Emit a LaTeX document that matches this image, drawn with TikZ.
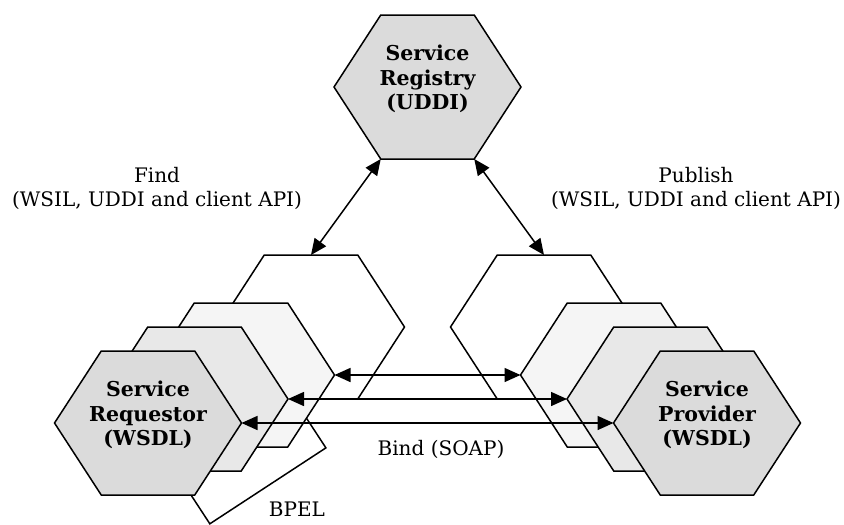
\documentclass[tikz,border=0pt]{standalone}
\usepackage{fontspec}
\setmainfont{DejaVu Serif}
\usetikzlibrary{positioning}
\usetikzlibrary{calc}
\usetikzlibrary{arrows.meta}

\definecolor{hexdark}{gray}{0.86}
\definecolor{hexmid}{gray}{0.91}
\definecolor{hexlight}{gray}{0.96}

\begin{document}
\begin{tikzpicture}[
x=1pt, y=-1pt,
line width=1.5pt,
hx/.style={minimum width=190pt, minimum height=147pt, inner sep=0pt, outer sep=-1.5pt,
  path picture={\filldraw[fill=#1, line width=1.5pt]
    ([xshift=-93.5pt]path picture bounding box.center) -- ++(46.75pt,72pt) -- ++(93.5pt,0pt)
    -- ++(46.75pt,-72pt) -- ++(-46.75pt,-72pt) -- ++(-93.5pt,0pt) -- cycle;}},
link/.style={draw, {Triangle[length=16pt,width=14pt]}-{Triangle[length=16pt,width=14pt]}}
]
\tikzstyle{tx} = [align=center, font=\bfseries\fontsize{20.5}{24.5}\selectfont]
\tikzstyle{lb} = [align=center, font=\fontsize{20}{24}\selectfont]

\useasboundingbox (0,0) rectangle (844,525);

% BPEL box sits behind the requestor stack
\node[draw, rotate=33.2, minimum width=138.7, minimum height=100, inner sep=0pt] (bpelbox) at (240.5,444) {};

% requestor stack, back to front
\node[hx=white] (rq1) at (311,327) {};
\node[hx=hexlight] (rq2) at (241,375) {};
\node[hx=hexmid] (rq3) at (194.5,399) {};
\node[hx=hexdark] (rq4) at (148,423) {};

% provider stack, back to front
\node[hx=white] (pv1) at (544,327) {};
\node[hx=hexlight] (pv2) at (614,375) {};
\node[hx=hexmid] (pv3) at (660.5,399) {};
\node[hx=hexdark] (pv4) at (707,423) {};

\node[hx=hexdark] (reg) at (427.5,87) {};

\draw[link] ($(reg.south west)!.25!(reg.south east)$) -- (rq1.north);
\draw[link] ($(reg.south west)!.75!(reg.south east)$) -- (pv1.north);
\draw[link] (rq2.east) -- (pv2.west);
\draw[link] (rq3.east) -- (pv3.west);
\draw[link] (rq4.east) -- (pv4.west);

\node[tx] (reg-t) at ([yshift=8pt]reg.center) {Service\\Registry\\(UDDI)};
\node[tx] (rq-t) at ([yshift=8pt]rq4.center) {Service\\Requestor\\(WSDL)};
\node[tx] (pv-t) at ([yshift=8pt]pv4.center) {Service\\Provider\\(WSDL)};

\node[lb] (find) at (157,188) {Find\\(WSIL, UDDI and client API)};
\node[lb] (publ) at (696,188) {Publish\\(WSIL, UDDI and client API)};
\node[lb] (bind) at (441,449) {Bind (SOAP)};
\node[lb] (bpel) at (297,509) {BPEL};
\end{tikzpicture}
\end{document}
